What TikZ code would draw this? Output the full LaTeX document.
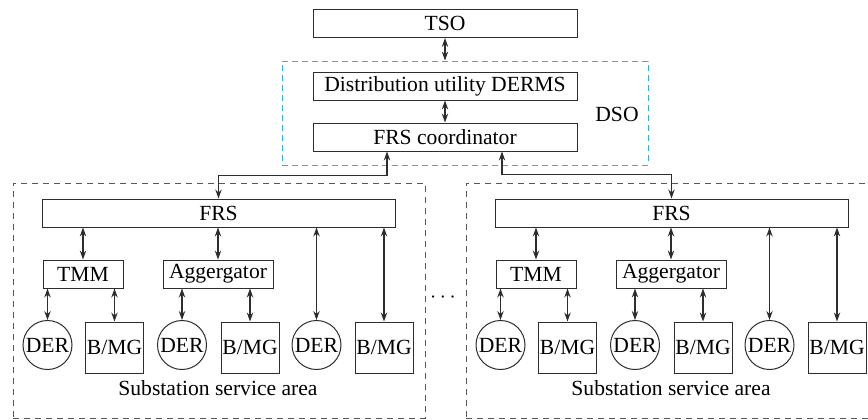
\documentclass[tikz,border=0pt]{standalone}
\usepackage{fontspec}
\setmainfont{Liberation Serif}
\newfontfamily\diagfont{Liberation Serif}
\usetikzlibrary{arrows.meta}
\definecolor{dsoblue}{RGB}{40,180,235}
\definecolor{linegray}{RGB}{45,45,45}
\tikzset{
  box/.style={draw=linegray, line width=0.5pt, inner sep=0pt, minimum height=14pt},
  dercircle/.style={draw=linegray, line width=0.5pt, circle, inner sep=0pt, minimum size=24.5pt},
  bmgbox/.style={draw=linegray, line width=0.5pt, inner sep=0pt, minimum width=29pt, minimum height=25.5pt},
  areabox/.style={draw=linegray!80, line width=0.5pt, dash pattern=on 3pt off 2.5pt, inner sep=0pt,
    minimum width=206pt, minimum height=117.5pt},
  biarrow/.style={draw=linegray, line width=0.55pt,
    {Stealth[length=4.5pt,width=3.2pt]}-{Stealth[length=4.5pt,width=3.2pt]}}
}
\begin{document}
\begin{tikzpicture}[x=0.5pt,y=-0.5pt,font=\diagfont\fontsize{10.8}{12}\selectfont]
				\useasboundingbox (0,0) rectangle (868,419);
				\clip (0,0) rectangle (868,419);
				% DSO level
				\node [box, minimum width=132pt] (tso) at (445,23.5) {TSO};
				\node [draw=dsoblue, line width=0.5pt, dash pattern=on 3pt off 2pt, inner sep=0pt,
				  minimum width=183pt, minimum height=52pt] (dso) at (465,113) {};
				\node (dsolabel) at (617,114) {DSO};
				\node [box, minimum width=132pt] (derms) at (445,86) {Distribution utility DERMS};
				\node [box, minimum width=132pt] (coord) at (445,137) {FRS coordinator};
				\draw[biarrow] (tso.south) -- (tso.south |- dso.north);
				\draw[biarrow] (derms.south) -- (coord.north);
				\node (dots) at (443,298) {$\cdots$};
				% the two substation service areas
				\foreach \s/\dx in {l/0, r/453}{
				  \node [areabox] (area\s) at (219+\dx,300.5) {};
				  \node (sub\s) at (218+\dx,388) {Substation service area};
				  \node [box, minimum width=176.5pt] (frs\s) at (218.5+\dx,213) {FRS};
				  \node [box, minimum width=40pt] (tmm\s) at (83+\dx,274) {TMM};
				  \node [box, minimum width=55pt] (agg\s) at (218+\dx,274) {Aggergator};
				  \node [dercircle] (dera\s) at (47.5+\dx,345) {DER};
				  \node [bmgbox] (bmga\s) at (114.5+\dx,347.5) {B/MG};
				  \node [dercircle] (derb\s) at (182+\dx,345) {DER};
				  \node [bmgbox] (bmgb\s) at (250+\dx,347.5) {B/MG};
				  \node [dercircle] (derc\s) at (316.5+\dx,345) {DER};
				  \node [bmgbox] (bmgc\s) at (384+\dx,347.5) {B/MG};
				  \draw[biarrow] (frs\s.south -| tmm\s.north) -- (tmm\s.north);
				  \draw[biarrow] (frs\s.south -| agg\s.north) -- (agg\s.north);
				  \draw[biarrow] (frs\s.south -| derc\s.north) -- (derc\s.north);
				  \draw[biarrow] (frs\s.south -| bmgc\s.north) -- (bmgc\s.north);
				  \draw[biarrow] (tmm\s.south -| dera\s.north) -- (dera\s.north);
				  \draw[biarrow] (tmm\s.south -| bmga\s.north) -- (bmga\s.north);
				  \draw[biarrow] (agg\s.south -| derb\s.north) -- (derb\s.north);
				  \draw[biarrow] (agg\s.south -| bmgb\s.north) -- (bmgb\s.north);
				}
				% links to the coordinator
				\draw[biarrow] ([xshift=-29pt]coord.south) -- ++(0,24) -| (frsl.north);
				\draw[biarrow] ([xshift=28.5pt]coord.south) -- ++(0,23) -| (frsr.north);
				\end{tikzpicture}
\end{document}
